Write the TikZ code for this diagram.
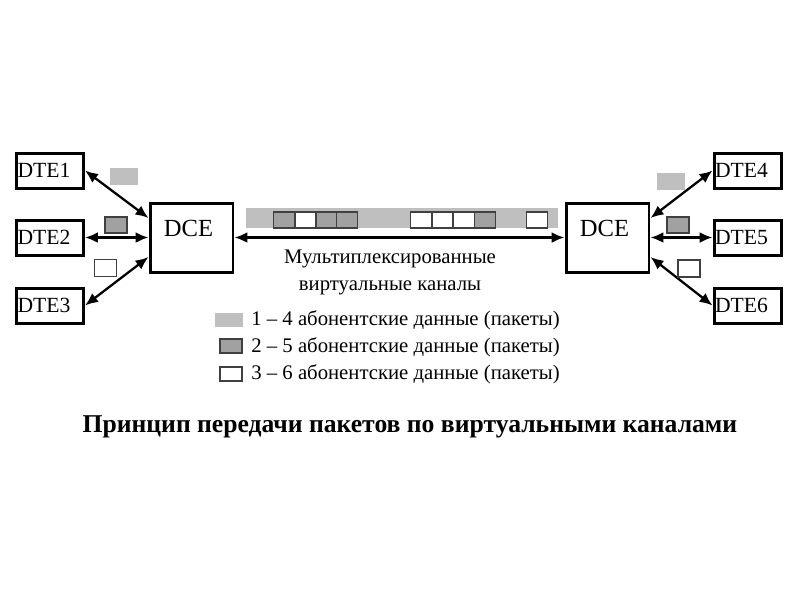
\documentclass[tikz,border=0pt]{standalone}
\usepackage{fontspec}
\setmainfont{Liberation Serif}
\usetikzlibrary{arrows.meta,positioning,calc}

\begin{document}
\begin{tikzpicture}[x=0.02cm, y=-0.02cm,
    dte/.style={draw, line width=1.7pt, minimum width=1.34cm, minimum height=0.7cm,
      inner xsep=0.5pt, inner ysep=0pt, text width=1.3cm, align=left,
      font=\fontsize{12.3}{14}\selectfont},
    dce/.style={draw, line width=1.7pt, minimum width=1.66cm, minimum height=1.38cm, inner sep=0pt},
    dcet/.style={inner sep=0pt, font=\fontsize{14}{16}\selectfont},
    lnk/.style={{Latex[length=2.6mm,width=2.2mm]}-{Latex[length=2.6mm,width=2.2mm]}, line width=1.3pt},
    pkt/.style={minimum width=0.42cm, minimum height=0.32cm, inner sep=0pt, line width=1.1pt, draw=black!75},
    pg/.style={pkt, draw=none, fill=black!25},
    pd/.style={pkt, fill=black!37},
    pw/.style={pkt, fill=white},
    txt/.style={inner sep=0pt, font=\fontsize{11.8}{15.3}\selectfont}
  ]
    \useasboundingbox (0,0) rectangle (800,600);
    % ---- left side ----
    \node[dte] (dte1) at (50,170.5) {DTE1};
    \node[dte] (dte2) at (50,237.5) {DTE2};
    \node[dte] (dte3) at (50,305.5) {DTE3};
    \node[dce] (dceL) at (191.5,237.5) {};
    \node[dcet, below=0.37cm of dceL.north, xshift=-0.06cm] (dceLt) {DCE};
    \draw[lnk] (dte1.east) -- ([yshift=0.39cm]dceL.west);
    \draw[lnk] (dte2.east) -- (dceL.west);
    \draw[lnk] (dte3.east) -- ([yshift=-0.39cm]dceL.west);
    \node[pg, minimum width=0.56cm, minimum height=0.34cm] (p1) at (124,176.5) {};
    \node[pd, minimum width=0.44cm] (p2) at (116,225) {};
    \node[pw, minimum width=0.44cm, minimum height=0.34cm] (p3) at (105.5,268) {};
    % ---- right side ----
    \node[dte] (dte4) at (747.5,170.5) {DTE4};
    \node[dte] (dte5) at (747.5,237.5) {DTE5};
    \node[dte] (dte6) at (747.5,305.5) {DTE6};
    \node[dce] (dceR) at (607.5,237.5) {};
    \node[dcet, below=0.37cm of dceR.north, xshift=-0.06cm] (dceRt) {DCE};
    \draw[lnk] (dte4.west) -- ([yshift=0.39cm]dceR.east);
    \draw[lnk] (dte5.west) -- (dceR.east);
    \draw[lnk] (dte6.west) -- ([yshift=-0.39cm]dceR.east);
    \node[pg, minimum width=0.56cm, minimum height=0.34cm] (p4) at (671,181.5) {};
    \node[pd, minimum width=0.44cm] (p5) at (678,225) {};
    \node[pw, minimum width=0.44cm, minimum height=0.34cm] (p6) at (689,268.5) {};
    % ---- multiplexed channel ----
    \node[pg, minimum width=6.24cm, minimum height=0.4cm] (bar) at (402,218) {};
    \foreach \x/\s in {284/pd, 305.5/pw, 326.5/pd, 347/pd,
                       421/pw, 442.5/pw, 464/pw, 485/pd, 537/pw}
      \node[\s] (b\x) at (\x,220) {};
    \draw[lnk] (dceL.east) -- (dceR.west);
    \node[txt, align=center] (mux) at (390,272)
      {Мультиплексированные\\виртуальные каналы};
    % ---- legend ----
    \node[pg, minimum width=0.56cm, minimum height=0.28cm] (k1) at (229,320) {};
    \node[pd, minimum width=0.44cm, minimum height=0.28cm] (k2) at (231,346) {};
    \node[pw, minimum width=0.44cm, minimum height=0.28cm] (k3) at (231,374) {};
    \node[txt, anchor=west] (l1) at (251,320) {1 – 4 абонентские данные (пакеты)};
    \node[txt, anchor=west] (l2) at (251,347) {2 – 5 абонентские данные (пакеты)};
    \node[txt, anchor=west] (l3) at (251,374) {3 – 6 абонентские данные (пакеты)};
    % ---- caption ----
    \node[font=\fontsize{14.6}{17}\selectfont\bfseries] (cap) at (410,427)
      {Принцип передачи пакетов по виртуальными каналами};
\end{tikzpicture}
\end{document}
